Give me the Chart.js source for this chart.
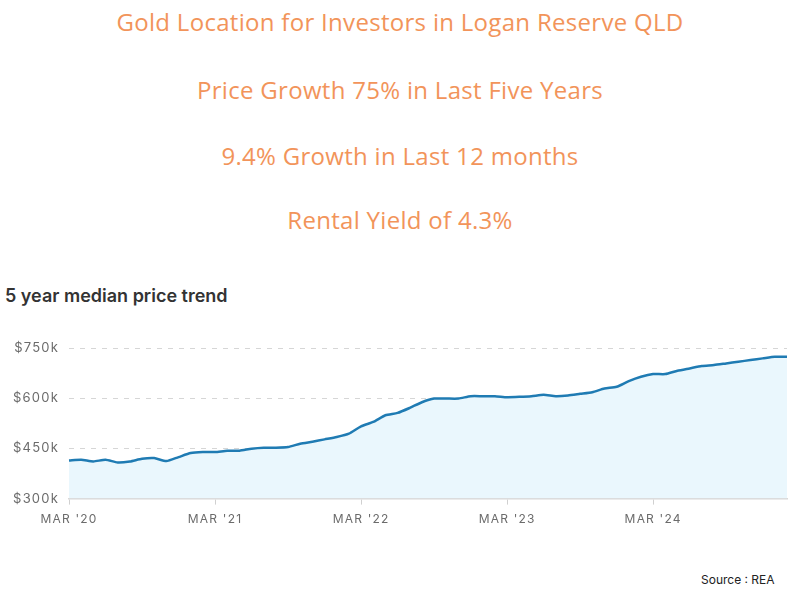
<!DOCTYPE html>
<html>
<head>
<meta charset="utf-8">
<script src="https://cdn.jsdelivr.net/npm/chart.js@4.4.1/dist/chart.umd.min.js"></script>
<style>
  body { margin: 0; background: #fff; }
  #page { position: relative; width: 800px; height: 600px; overflow: hidden; }
  .head {
    position: absolute; left: 0; width: 800px; text-align: center;
    font-family: "Open Sans", sans-serif; font-size: 24px; letter-spacing: 0.3px; color: #f2945a;
    line-height: 30px;
  }
  #chartTitle {
    position: absolute; left: 5px; top: 285px;
    font-family: Inter, sans-serif; font-weight: 600; font-size: 18px; color: #333;
  }
  #source {
    position: absolute; left: 701px; top: 572px;
    font-family: Inter, sans-serif; font-size: 12px; color: #222;
  }
  #wrap { position: absolute; left: 0; top: 270px; width: 800px; height: 270px; }
</style>
</head>
<body>
<div id="page">
  <div class="head" style="top:7px">Gold Location for Investors in Logan Reserve QLD</div>
  <div class="head" style="top:75px">Price Growth 75% in Last Five Years</div>
  <div class="head" style="top:141px">9.4% Growth in Last 12 months</div>
  <div class="head" style="top:205px">Rental Yield of 4.3%</div>
  <div id="chartTitle">5 year median price trend</div>
  <div id="source">Source : REA</div>
  <div id="wrap"><canvas id="priceChart"></canvas></div>
</div>
<script>
// monthly labels, Mar 2020 - Feb 2025
const months = [
  'Mar 20','Apr 20','May 20','Jun 20','Jul 20','Aug 20','Sep 20','Oct 20','Nov 20','Dec 20','Jan 21','Feb 21',
  'Mar 21','Apr 21','May 21','Jun 21','Jul 21','Aug 21','Sep 21','Oct 21','Nov 21','Dec 21','Jan 22','Feb 22',
  'Mar 22','Apr 22','May 22','Jun 22','Jul 22','Aug 22','Sep 22','Oct 22','Nov 22','Dec 22','Jan 23','Feb 23',
  'Mar 23','Apr 23','May 23','Jun 23','Jul 23','Aug 23','Sep 23','Oct 23','Nov 23','Dec 23','Jan 24','Feb 24',
  'Mar 24','Apr 24','May 24','Jun 24','Jul 24','Aug 24','Sep 24','Oct 24','Nov 24','Dec 24','Jan 25','Feb 25'
];

// median price in $k
const medianPrice = [
  414, 416, 411, 416, 408, 411, 419, 421, 412, 424, 436, 439,
  439, 443, 443, 449, 452, 452, 454, 464, 470, 477, 484, 494,
  516, 529, 549, 556, 571, 588, 599, 599, 599, 606, 606, 606,
  603, 604, 606, 610, 606, 608, 613, 618, 629, 634, 651, 664,
  672, 672, 682, 689, 696, 699, 704, 709, 714, 719, 724, 724
];

// x tick labels shown at these positions
const xTickLabels = { 0: "MAR '20", 12: "MAR '21", 24: "MAR '22", 36: "MAR '23", 48: "MAR '24" };
const yTicks = [300, 450, 600, 750];

const ctx = document.getElementById('priceChart').getContext('2d');

// letter spacing for axis text
const spacing = {
  id: 'spacing',
  beforeDraw(chart) { chart.ctx.letterSpacing = '1.2px'; }
};

new Chart(ctx, {
  type: 'line',
  data: {
    labels: months,
    datasets: [{
      data: medianPrice,
      borderColor: '#1f7bb3',
      borderWidth: 2.5,
      backgroundColor: '#eaf7fd',
      fill: 'start',
      pointRadius: 0,
      tension: 0.2
    }]
  },
  options: {
    responsive: true,
    maintainAspectRatio: false,
    animation: false,
    layout: { padding: { left: 0, right: 13, top: 78, bottom: 5 } },
    plugins: { legend: { display: false }, tooltip: { enabled: false } },
    scales: {
      x: {
        offset: false,
        grid: { drawOnChartArea: false, drawTicks: true, tickLength: 6, color: '#d0d0d0' },
        border: { display: true, color: '#d8d8d8', width: 1.5 },
        ticks: {
          autoSkip: false, maxRotation: 0, padding: 8,
          color: '#6b6b6b', font: { family: 'Inter', size: 12 },
          callback: (v, i) => (i in xTickLabels ? xTickLabels[i] : null)
        }
      },
      y: {
        min: 300, max: 750,
        afterBuildTicks: (scale) => { scale.ticks = yTicks.map(v => ({ value: v })); },
        afterFit: (scale) => { scale.width = 69; },
        grid: { drawTicks: false, color: '#d6d6d6', lineWidth: 1 },
        border: { display: false, dash: [5, 6] },
        ticks: {
          padding: 10, color: '#6b6b6b', font: { family: 'Inter', size: 13 },
          callback: (v) => '$' + v + 'k'
        }
      }
    }
  },
  plugins: [spacing]
});
</script>
</body>
</html>
